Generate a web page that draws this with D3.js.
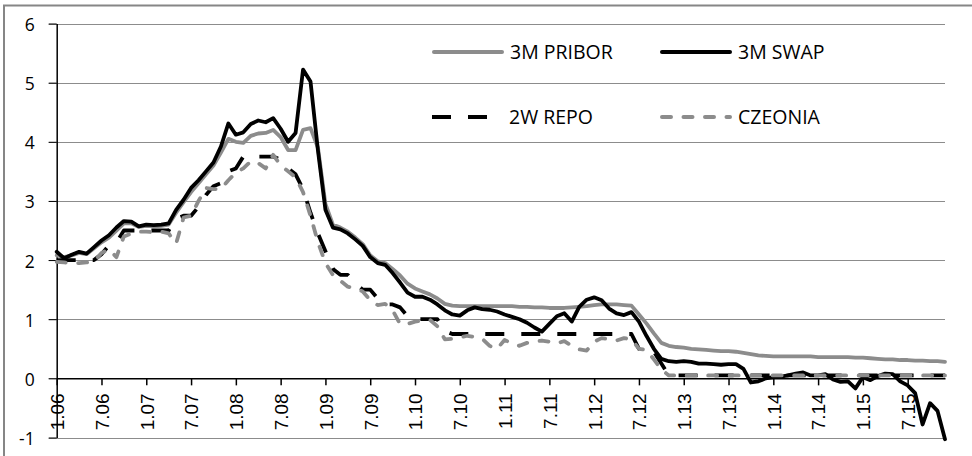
<!DOCTYPE html>
<html>
<head>
<meta charset="utf-8">
<script src="https://cdn.jsdelivr.net/npm/d3@7/dist/d3.min.js"></script>
<style>
    body { margin: 0; background: #fff; }
    .tick text { fill: #000; }
</style>
</head>
<body>
<script>
// dimensions
var width = 972;
var height = 456;

var margin = {
    top: 23.5,
    bottom: 18.5,
    left: 56.7,
    right: 27,
}

// month labels 1.06 ... 12.15
var months = [];
for (var yr = 6; yr <= 15; yr++) {
    for (var m = 1; m <= 12; m++) {
        months.push(m + "." + (yr < 10 ? "0" + yr : yr));
    }
}

// monthly values, Jan 2006 - Dec 2015
var series = [
    {
        name: "3M PRIBOR", color: "#8c8c8c", dash: null, cap: "round",
        values: [2.08, 2.05, 2.08, 2.12, 2.10, 2.20, 2.30, 2.38, 2.50, 2.62, 2.62, 2.56,
            2.58, 2.57, 2.58, 2.60, 2.80, 2.98, 3.15, 3.30, 3.45, 3.60, 3.82, 4.05,
            4.00, 3.98, 4.10, 4.14, 4.15, 4.20, 4.08, 3.86, 3.86, 4.20, 4.23, 3.90,
            2.95, 2.60, 2.55, 2.48, 2.38, 2.27, 2.08, 1.98, 1.95, 1.85, 1.74, 1.60,
            1.52, 1.47, 1.42, 1.35, 1.26, 1.23, 1.22, 1.22, 1.22, 1.22, 1.22, 1.22,
            1.22, 1.22, 1.21, 1.21, 1.20, 1.20, 1.19, 1.19, 1.19, 1.20, 1.21, 1.22,
            1.24, 1.25, 1.25, 1.25, 1.24, 1.23, 1.08, 0.93, 0.76, 0.60, 0.55, 0.53,
            0.52, 0.50, 0.49, 0.48, 0.47, 0.46, 0.46, 0.45, 0.43, 0.41, 0.39, 0.38,
            0.37, 0.37, 0.37, 0.37, 0.37, 0.37, 0.36, 0.36, 0.36, 0.36, 0.36, 0.35,
            0.35, 0.34, 0.33, 0.32, 0.32, 0.31, 0.31, 0.30, 0.30, 0.29, 0.29, 0.28]
    },
    {
        name: "3M SWAP", color: "#000", dash: null, cap: "round",
        values: [2.14, 2.03, 2.09, 2.14, 2.11, 2.22, 2.33, 2.42, 2.55, 2.66, 2.65, 2.57,
            2.60, 2.59, 2.60, 2.62, 2.85, 3.02, 3.22, 3.35, 3.50, 3.65, 3.92, 4.31,
            4.12, 4.16, 4.30, 4.36, 4.33, 4.40, 4.22, 4.00, 4.15, 5.22, 5.02, 3.85,
            2.85, 2.55, 2.52, 2.45, 2.35, 2.24, 2.05, 1.95, 1.92, 1.78, 1.62, 1.45,
            1.38, 1.38, 1.33, 1.25, 1.15, 1.08, 1.06, 1.15, 1.20, 1.17, 1.16, 1.13,
            1.08, 1.04, 1.00, 0.94, 0.86, 0.79, 0.92, 1.05, 1.10, 0.96, 1.21, 1.33,
            1.37, 1.32, 1.18, 1.10, 1.07, 1.12, 0.96, 0.72, 0.50, 0.33, 0.29, 0.28,
            0.29, 0.28, 0.25, 0.25, 0.24, 0.23, 0.24, 0.24, 0.16, -0.07, -0.05, 0.00,
            0.02, 0.03, 0.05, 0.08, 0.10, 0.05, 0.05, 0.07, -0.02, -0.06, -0.05, -0.17,
            0.02, -0.03, 0.04, 0.08, 0.07, -0.05, -0.12, -0.25, -0.78, -0.42, -0.55, -1.03]
    },
    {
        name: "2W REPO", color: "#000", dash: "19,17", cap: "butt",
        values: [2.00, 2.00, 2.00, 2.00, 2.00, 2.00, 2.10, 2.25, 2.30, 2.50, 2.50, 2.50,
            2.50, 2.50, 2.50, 2.50, 2.70, 2.75, 2.75, 2.90, 3.10, 3.25, 3.30, 3.50,
            3.55, 3.75, 3.75, 3.75, 3.75, 3.75, 3.70, 3.55, 3.45, 3.20, 2.80, 2.45,
            2.15, 1.85, 1.75, 1.75, 1.60, 1.50, 1.50, 1.35, 1.25, 1.25, 1.20, 1.05,
            1.00, 1.00, 1.00, 1.00, 0.80, 0.75, 0.75, 0.75, 0.75, 0.75, 0.75, 0.75,
            0.75, 0.75, 0.75, 0.75, 0.75, 0.75, 0.75, 0.75, 0.75, 0.75, 0.75, 0.75,
            0.75, 0.75, 0.75, 0.75, 0.75, 0.75, 0.50, 0.50, 0.45, 0.25, 0.05, 0.05,
            0.05, 0.05, 0.05, 0.05, 0.05, 0.05, 0.05, 0.05, 0.05, 0.05, 0.05, 0.05,
            0.05, 0.05, 0.05, 0.05, 0.05, 0.05, 0.05, 0.05, 0.05, 0.05, 0.05, 0.05,
            0.05, 0.05, 0.05, 0.05, 0.05, 0.05, 0.05, 0.05, 0.05, 0.05, 0.05, 0.05]
    },
    {
        name: "CZEONIA", color: "#8c8c8c", dash: "9,12.5", cap: "round",
        values: [1.97, 1.96, 1.95, 1.95, 1.96, 1.98, 2.12, 2.18, 2.05, 2.40, 2.45, 2.48,
            2.48, 2.47, 2.48, 2.45, 2.28, 2.72, 2.75, 3.00, 3.22, 3.20, 3.20, 3.35,
            3.48, 3.55, 3.67, 3.64, 3.55, 3.78, 3.60, 3.50, 3.40, 3.15, 2.75, 2.30,
            1.95, 1.75, 1.65, 1.55, 1.52, 1.47, 1.32, 1.24, 1.26, 1.15, 0.92, 0.92,
            0.96, 0.98, 0.99, 0.88, 0.66, 0.67, 0.69, 0.72, 0.70, 0.67, 0.55, 0.50,
            0.65, 0.59, 0.55, 0.60, 0.62, 0.64, 0.62, 0.59, 0.63, 0.55, 0.49, 0.47,
            0.62, 0.68, 0.66, 0.64, 0.68, 0.66, 0.50, 0.48, 0.32, 0.15, 0.05, 0.05,
            0.05, 0.05, 0.05, 0.05, 0.05, 0.05, 0.05, 0.05, 0.05, 0.05, 0.05, 0.05,
            0.05, 0.05, 0.05, 0.05, 0.05, 0.05, 0.05, 0.05, 0.05, 0.05, 0.05, 0.05,
            0.05, 0.05, 0.05, 0.05, 0.05, 0.05, 0.05, 0.05, 0.05, 0.05, 0.05, 0.05]
    }
];

// create an svg to draw in
var svg = d3.select("body")
    .append("svg")
    .attr("width", width)
    .attr("height", height);

// chart border (only left and top edge inside the picture)
svg.append("rect")
    .attr("x", 4)
    .attr("y", 5.5)
    .attr("width", 990)
    .attr("height", 480)
    .attr("fill", "none")
    .attr("stroke", "#868686")
    .attr("stroke-width", 2);

var x = d3.scalePoint()
    .domain(months)
    .range([margin.left, width - margin.right]);

var y = d3.scaleLinear()
    .domain([-1, 6])
    .range([height - margin.bottom, margin.top]);

// horizontal gridlines
svg.append("g")
    .selectAll("line")
    .data(d3.range(-1, 7))
    .enter().append("line")
    .attr("x1", margin.left - 8)
    .attr("x2", width - margin.right)
    .attr("y1", function (d) { return Math.round(y(d)) + 0.5; })
    .attr("y2", function (d) { return Math.round(y(d)) + 0.5; })
    .attr("stroke", "#8c8c8c")
    .attr("stroke-width", 1);

// y axis
var yAxis = svg.append("g")
    .attr("transform", "translate(" + margin.left + ",0)")
    .call(d3.axisLeft(y)
        .tickValues(d3.range(-1, 7))
        .tickFormat(function (d) { return String(d); })
        .tickSize(8)
        .tickPadding(14)
        .tickSizeOuter(0));

yAxis.select(".domain").attr("stroke", "#000").attr("stroke-width", 1.5);
yAxis.selectAll(".tick line").attr("stroke", "#000");
yAxis.selectAll(".tick text")
    .attr("font-family", "'Open Sans', sans-serif")
    .attr("font-size", "17.5px")
    .attr("dy", "0.4em");

// x axis at zero
var xAxis = svg.append("g")
    .attr("transform", "translate(0," + y(0) + ")")
    .call(d3.axisBottom(x)
        .tickValues(months.filter(function (d, i) { return i % 6 == 0; }))
        .tickSize(7)
        .tickSizeOuter(0));

xAxis.select(".domain").attr("stroke", "#000").attr("stroke-width", 1.5);
xAxis.selectAll(".tick line").attr("stroke", "#000").attr("stroke-width", 1.5);
xAxis.selectAll(".tick text")
    .attr("font-family", "'Liberation Sans', Arial, sans-serif")
    .attr("font-size", "19px")
    .attr("transform", "rotate(-90)")
    .attr("text-anchor", "end")
    .attr("x", -15)
    .attr("y", 0)
    .attr("dy", "0.36em");

// series lines
var line = d3.line()
    .x(function (d, i) { return x(months[i]); })
    .y(function (d) { return y(d); });

svg.append("g")
    .selectAll("path")
    .data(series)
    .enter().append("path")
    .attr("d", function (d) { return line(d.values); })
    .attr("fill", "none")
    .attr("stroke", function (d) { return d.color; })
    .attr("stroke-width", 3.8)
    .attr("stroke-linejoin", "round")
    .attr("stroke-linecap", function (d) { return d.cap; })
    .attr("stroke-dasharray", function (d) { return d.dash; });

// legend
var legendPos = [
    { x: 432, y: 52 },
    { x: 660, y: 52 },
    { x: 432, y: 117 },
    { x: 660, y: 117 }
];

var legend = svg.append("g")
    .selectAll("g")
    .data(series)
    .enter().append("g")
    .attr("transform", function (d, i) { return "translate(" + legendPos[i].x + "," + legendPos[i].y + ")"; });

legend.append("line")
    .attr("x1", function (d) { return d.cap == "round" ? 2 : 0; })
    .attr("x2", function (d) { return d.name == "2W REPO" ? 55 : 70; })
    .attr("stroke", function (d) { return d.color; })
    .attr("stroke-width", 4)
    .attr("stroke-linecap", function (d) { return d.cap; })
    .attr("stroke-dasharray", function (d) { return d.dash; });

legend.append("text")
    .attr("x", function (d) { return d.name == "2W REPO" ? 77 : 78; })
    .attr("dy", "0.36em")
    .attr("font-family", "'Open Sans', sans-serif")
    .attr("font-size", "19.5px")
    .text(function (d) { return d.name; });
</script>
</body>
</html>
